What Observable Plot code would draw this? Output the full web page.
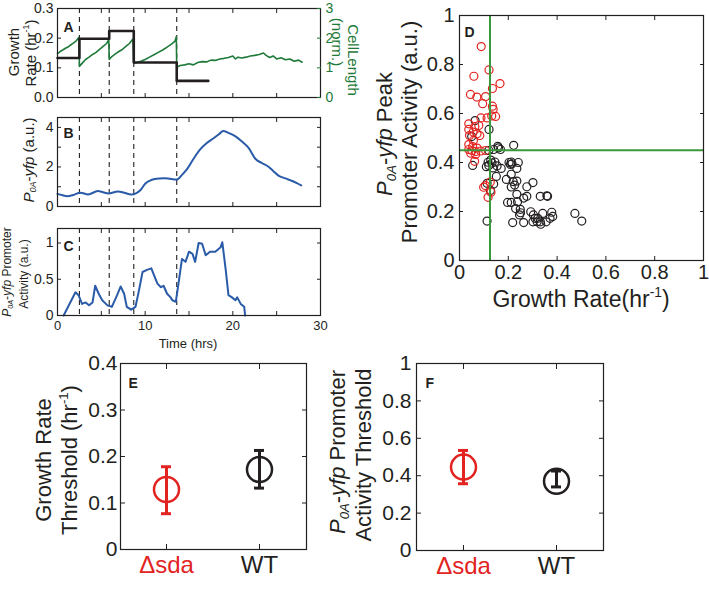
<!DOCTYPE html>
<html>
<head>
<meta charset="utf-8">
<script src="https://cdn.jsdelivr.net/npm/d3@7"></script>
<script src="https://cdn.jsdelivr.net/npm/@observablehq/plot@0.6"></script>
<style>
html,body{margin:0;padding:0;background:#fff;}
#fig{position:relative;width:709px;height:591px;overflow:hidden;font-family:"Liberation Sans",Arial,sans-serif;color:#231f20;}
#fig svg{position:absolute;left:0;top:0;}
.t{position:absolute;white-space:nowrap;line-height:1;}
sup{font-size:0.6em;vertical-align:0.7em;line-height:0;}
sub{font-size:0.6em;vertical-align:-0.3em;line-height:0;}
</style>
</head>
<body>
<div id="fig"></div>
<script>
// ---------------- data ----------------
const timeTicks = [0, 5, 10, 15, 20, 25, 30];
const timeTickLabels = [0, 10, 20, 30];
const divisionTimes = [2.5, 5.9, 8.7, 13.6];

// Panel A: growth rate (hr^-1), step function
const growthT = [0, 2.5, 2.5, 5.9, 5.9, 8.7, 8.7, 13.6, 13.6, 17.2];
const growthV = [0.133, 0.133, 0.198, 0.198, 0.224, 0.224, 0.118, 0.118, 0.056, 0.056];
const rateTicks = [0, 0.1, 0.2, 0.3];

// Panel A: cell length (norm.)
const lengthT = [0,0.3,0.6,0.9,1.2,1.5,1.8,2.1,2.45,2.5,
  2.8,3.2,3.6,4.0,4.4,4.8,5.2,5.6,5.85,5.9,
  6.2,6.6,7.0,7.4,7.8,8.2,8.6,8.7,
  9.0,9.5,10.0,10.5,11.0,11.5,12.0,12.5,13.0,13.4,13.55,13.6,
  14.0,14.5,15.0,15.5,16.0,16.5,17.0,17.5,18.0,18.5,19.0,19.5,20.0,20.3,20.6,21.0,21.5,22.0,22.5,23.0,23.5,23.8,24.2,24.6,25.0,25.5,26.0,26.5,27.0,27.5,27.9];
const lengthV = [1.48,1.55,1.6,1.66,1.7,1.77,1.83,1.9,2.03,1.05,
  1.15,1.28,1.36,1.45,1.52,1.62,1.72,1.82,1.95,1.28,
  1.38,1.47,1.55,1.62,1.72,1.82,1.97,1.15,
  1.17,1.22,1.28,1.36,1.44,1.52,1.6,1.7,1.8,1.9,2.05,1.02,
  1.08,1.1,1.14,1.1,1.18,1.21,1.2,1.26,1.25,1.3,1.32,1.35,1.4,1.3,1.36,1.33,1.36,1.4,1.42,1.45,1.5,1.42,1.35,1.4,1.3,1.34,1.27,1.3,1.22,1.26,1.19];
const lengthTicks = [0, 1, 2, 3];
const lengthPerRate = 10; // right axis (0–3) shares the left axis (0–0.3)

// Panel B: P0A-yfp (a.u.)
const yfpT = [0,0.5,1.1,1.8,2.6,3.5,4.6,5.2,5.8,6.9,7.6,8.4,9.0,9.5,10.0,10.5,11.1,11.6,12.2,12.8,13.3,13.6,14.2,14.8,15.5,16.3,17.0,17.8,18.4,18.9,19.5,20.3,21.0,21.8,22.6,23.3,24.1,24.6,25.2,26.0,26.7,27.3,27.8];
const yfpV = [0.64,0.58,0.52,0.58,0.7,0.61,0.78,0.72,0.66,0.76,0.7,0.61,0.68,0.85,1.15,1.3,1.39,1.42,1.43,1.4,1.37,1.36,1.6,1.9,2.4,2.9,3.2,3.45,3.65,3.82,3.72,3.55,3.3,2.96,2.4,2.2,2.0,1.8,1.56,1.42,1.3,1.18,1.07];
const yfpTicks = [0, 1, 2, 3, 4];
const yfpTickLabels = [0, 2, 4];

// Panel C: P0A-yfp promoter activity (a.u.)
const actT = [0.7,2.05,2.4,2.8,3.2,3.6,4.0,4.3,4.7,5.1,5.7,6.2,6.8,7.2,7.6,7.9,8.4,8.9,9.3,9.7,10.2,10.7,11.1,11.4,11.8,12.1,12.5,12.9,13.1,13.5,13.8,14.2,14.6,15.0,15.4,15.7,16.1,16.5,16.9,17.4,18.0,18.6,18.8,19.2,19.5,19.9,20.3,20.5,20.9,21.3,21.4];
const actV = [0,0.32,0.28,0.16,0.18,0.14,0.18,0.41,0.3,0.21,0.14,0.12,0.28,0.4,0.3,0.12,0.08,0.12,0.35,0.6,0.63,0.65,0.53,0.44,0.39,0.41,0.3,0.25,0.21,0.19,0.44,0.78,0.74,0.88,0.85,0.74,1.0,0.99,0.83,0.88,0.88,0.94,1.01,0.62,0.28,0.25,0.21,0.25,0.16,0.12,0];
const actTicks = [0, 0.5, 1];

// Panel D: peak promoter activity vs growth rate
const redX = [0.089,0.121,0.059,0.166,0.135,0.045,0.071,0.107,0.095,0.135,0.148,0.088,0.113,0.138,0.038,0.063,0.079,0.038,0.056,0.072,0.083,0.041,0.057,0.038,0.054,0.072,0.038,0.051,0.067,0.087,0.107,0.046,0.066,0.099,0.117,0.129,0.126,0.106,0.132,0.062];
const redY = [0.873,0.778,0.752,0.722,0.702,0.678,0.667,0.669,0.640,0.630,0.588,0.582,0.582,0.617,0.558,0.547,0.551,0.535,0.524,0.517,0.510,0.510,0.490,0.473,0.465,0.459,0.453,0.449,0.445,0.447,0.449,0.438,0.433,0.299,0.258,0.279,0.320,0.306,0.590,0.405];
const blackX = [0.064,0.121,0.050,0.054,0.120,0.140,0.157,0.168,0.222,0.117,0.120,0.133,0.137,0.154,0.171,0.151,0.140,0.113,0.127,0.113,0.203,0.209,0.212,0.241,0.235,0.212,0.192,0.220,0.235,0.212,0.226,0.276,0.301,0.235,0.263,0.276,0.197,0.212,0.238,0.230,0.249,0.246,0.218,0.263,0.292,0.303,0.310,0.301,0.321,0.331,0.333,0.341,0.331,0.358,0.361,0.355,0.371,0.378,0.382,0.473,0.501,0.110,0.128,0.145,0.160,0.215,0.250,0.318];
const blackY = [0.571,0.535,0.506,0.388,0.449,0.453,0.466,0.453,0.470,0.401,0.388,0.398,0.378,0.386,0.376,0.343,0.312,0.315,0.286,0.161,0.400,0.392,0.402,0.400,0.376,0.352,0.331,0.322,0.324,0.300,0.308,0.301,0.318,0.270,0.255,0.262,0.237,0.237,0.240,0.212,0.209,0.186,0.155,0.155,0.199,0.186,0.172,0.158,0.172,0.158,0.148,0.192,0.262,0.264,0.262,0.158,0.172,0.197,0.180,0.192,0.161,0.383,0.410,0.402,0.460,0.395,0.195,0.158];
const growthThreshold = [0.125];
const activityThreshold = [0.45];
const unitTicks = [0, 0.2, 0.4, 0.6, 0.8, 1];

// Panels E, F: thresholds per strain
const strains = ["Δsda", "WT"];
const strainColors = ["#e2231f", "#231f20"];
const growthThr = [0.129, 0.172], growthLo = [0.077, 0.132], growthHi = [0.178, 0.213];
const actThr = [0.446, 0.37], actLo = [0.357, 0.34], actHi = [0.535, 0.425];
const growthThrTicks = [0, 0.1, 0.2, 0.3, 0.4];

// ---------------- drawing ----------------
const W = 709, H = 591, TK = 4;
const INK = "#231f20", GREEN_A = "#1f7a3a", GREEN_D = "#3a993a", BLUE = "#2a5ba8", RED = "#e2231f";
const FONT = '"Liberation Sans", Arial, sans-serif';
const fig = document.getElementById("fig");

function box(l, t, r, b) {
  return {width: W, height: H, marginLeft: l, marginTop: t, marginRight: W - r, marginBottom: H - b,
    style: {background: "transparent", color: INK, fontFamily: FONT}};
}
function inTicksX(ticks, o = {}) {
  return ["top", "bottom"].map(a => Plot.axisX(ticks, {anchor: a, tickSize: -TK, tickFormat: () => "", label: null, ...o}));
}
function inTicksY(ticks, sides, o = {}) {
  return sides.map(a => Plot.axisY(ticks, {anchor: a, tickSize: -TK, tickFormat: () => "", label: null, ...o}));
}
function letter(s, dx, dy, size = 14) {
  return Plot.text([s], {text: d => d, frameAnchor: "top-left", dx, dy, fontWeight: "bold", fontSize: size, textAnchor: "start", fill: INK});
}
function addLabel(html, cx, cy, size, rot = 0, color = INK) {
  const d = document.createElement("div");
  d.className = "t";
  d.style.left = cx + "px"; d.style.top = cy + "px"; d.style.fontSize = size + "px"; d.style.color = color;
  d.style.transform = `translate(-50%,-50%) rotate(${rot}deg)`;
  d.innerHTML = html;
  fig.appendChild(d);
}
const at = arr => (d, i) => arr[i];

// Panel A
fig.appendChild(Plot.plot({
  ...box(57, 8, 320, 97),
  x: {domain: [0, 30]}, y: {domain: [0, 0.3]},
  marks: [
    Plot.ruleX(divisionTimes, {x: d => d, stroke: INK, strokeDasharray: "5,4", strokeWidth: 1.1}),
    Plot.line(lengthV, {x: at(lengthT), y: d => d / lengthPerRate, stroke: GREEN_A, strokeWidth: 1.6}),
    Plot.line(growthV, {x: at(growthT), y: d => d, stroke: INK, strokeWidth: 2.6}),
    Plot.frame({stroke: INK, strokeWidth: 1.2}),
    ...inTicksX(timeTicks),
    ...inTicksY(rateTicks, ["left"]),
    ...inTicksY(lengthTicks.map(v => v / lengthPerRate), ["right"], {stroke: GREEN_A}),
    Plot.axisY(rateTicks, {anchor: "left", tickSize: 0, tickPadding: 4, fontSize: 14, label: null}),
    Plot.axisY(lengthTicks.map(v => v / lengthPerRate), {anchor: "right", tickSize: 0, tickPadding: 5, fontSize: 14, label: null, fill: GREEN_A, tickFormat: d => String(Math.round(d * lengthPerRate))}),
    letter("A", 6, 14)
  ]
}));

// Panel B
fig.appendChild(Plot.plot({
  ...box(57, 117, 320, 206),
  x: {domain: [0, 30]}, y: {domain: [0, 4.5]},
  marks: [
    Plot.ruleX(divisionTimes, {x: d => d, stroke: INK, strokeDasharray: "5,4", strokeWidth: 1.1}),
    Plot.line(yfpV, {x: at(yfpT), y: d => d, stroke: BLUE, strokeWidth: 2, curve: "monotone-x"}),
    Plot.frame({stroke: INK, strokeWidth: 1.2}),
    ...inTicksX(timeTicks),
    ...inTicksY(yfpTicks, ["left", "right"]),
    Plot.axisY(yfpTickLabels, {anchor: "left", tickSize: 0, tickPadding: 4, fontSize: 14, label: null}),
    letter("B", 6, 11)
  ]
}));

// Panel C
fig.appendChild(Plot.plot({
  ...box(57, 228, 320, 315),
  x: {domain: [0, 30]}, y: {domain: [0, 1.2]},
  marks: [
    Plot.ruleX(divisionTimes, {x: d => d, stroke: INK, strokeDasharray: "5,4", strokeWidth: 1.1}),
    Plot.line(actV, {x: at(actT), y: d => d, stroke: BLUE, strokeWidth: 2}),
    Plot.frame({stroke: INK, strokeWidth: 1.2}),
    ...inTicksX(timeTicks),
    ...inTicksY(actTicks, ["left", "right"]),
    Plot.axisY(actTicks, {anchor: "left", tickSize: 0, tickPadding: 4, fontSize: 14, label: null, tickFormat: d => String(d)}),
    Plot.axisX(timeTickLabels, {anchor: "bottom", tickSize: 0, tickPadding: 5, fontSize: 13, label: null}),
    letter("C", 6, 13)
  ]
}));

// Panel D
fig.appendChild(Plot.plot({
  ...box(459, 15, 703, 260),
  x: {domain: [0, 1]}, y: {domain: [0, 1]},
  marks: [
    Plot.dot(blackX, {x: d => d, y: at(blackY), r: 4, stroke: INK, strokeWidth: 1.2}),
    Plot.dot(redX, {x: d => d, y: at(redY), r: 4, stroke: RED, strokeWidth: 1.2}),
    Plot.ruleX(growthThreshold, {x: d => d, stroke: GREEN_D, strokeWidth: 2}),
    Plot.ruleY(activityThreshold, {y: d => d, stroke: GREEN_D, strokeWidth: 2}),
    Plot.frame({stroke: INK, strokeWidth: 1.2}),
    ...inTicksX(unitTicks),
    ...inTicksY(unitTicks, ["left", "right"]),
    Plot.axisX(unitTicks, {anchor: "bottom", tickSize: 0, tickPadding: 4, fontSize: 20, label: null, tickFormat: d => String(d)}),
    Plot.axisY(unitTicks, {anchor: "left", tickSize: 0, tickPadding: 5, fontSize: 20, label: null, tickFormat: d => String(d)}),
    letter("D", 5, 12)
  ]
}));

// Panel E
const bandX = {type: "band", domain: strains, paddingInner: 0.89, paddingOuter: 0.445};
fig.appendChild(Plot.plot({
  ...box(120, 363, 306, 549),
  x: bandX, y: {domain: [0, 0.4]}, color: {type: "identity"},
  marks: [
    Plot.ruleX(strains, {x: d => d, y1: at(growthLo), y2: at(growthHi), stroke: at(strainColors), strokeWidth: 3}),
    Plot.tickY(strains, {x: d => d, y: at(growthLo), stroke: at(strainColors), strokeWidth: 3}),
    Plot.tickY(strains, {x: d => d, y: at(growthHi), stroke: at(strainColors), strokeWidth: 3}),
    Plot.dot(strains, {x: d => d, y: at(growthThr), r: 12.5, stroke: at(strainColors), strokeWidth: 2.5}),
    Plot.frame({stroke: INK, strokeWidth: 1.2}),
    ...inTicksX(strains, {tickSize: -5}),
    ...inTicksY(growthThrTicks, ["left", "right"], {tickSize: -5}),
    Plot.axisY(growthThrTicks, {anchor: "left", tickSize: 0, tickPadding: 3, fontSize: 21, label: null, tickFormat: d => String(d)}),
    Plot.text(strains, {x: d => d, frameAnchor: "bottom", dy: 23, fontSize: 24, fill: at(strainColors)}),
    letter("E", 8, 15)
  ]
}));

// Panel F
fig.appendChild(Plot.plot({
  ...box(416, 363, 603, 550),
  x: bandX, y: {domain: [0, 1]}, color: {type: "identity"},
  marks: [
    Plot.ruleX(strains, {x: d => d, y1: at(actLo), y2: at(actHi), stroke: at(strainColors), strokeWidth: 3}),
    Plot.tickY(strains, {x: d => d, y: at(actLo), stroke: at(strainColors), strokeWidth: 3}),
    Plot.tickY(strains, {x: d => d, y: at(actHi), stroke: at(strainColors), strokeWidth: 3}),
    Plot.dot(strains, {x: d => d, y: at(actThr), r: 12.5, stroke: at(strainColors), strokeWidth: 2.5}),
    Plot.frame({stroke: INK, strokeWidth: 1.2}),
    ...inTicksX(strains, {tickSize: -5}),
    ...inTicksY(unitTicks, ["left", "right"], {tickSize: -5}),
    Plot.axisY(unitTicks, {anchor: "left", tickSize: 0, tickPadding: 5, fontSize: 21, label: null, tickFormat: d => String(d)}),
    Plot.text(strains, {x: d => d, frameAnchor: "bottom", dy: 23, fontSize: 24, fill: at(strainColors)}),
    letter("F", 9, 15)
  ]
}));

// ---------------- axis titles ----------------
const P0A = '<i>P</i><sub><i>0A</i></sub>-<i>yfp</i>';
addLabel("Growth", 13, 52, 15, -90);
addLabel("Rate (hr<sup>-1</sup>)", 30, 53, 15, -90);
addLabel("CellLength", 353, 60, 15, 90, GREEN_A);
addLabel("(norm.)", 337, 42, 15, 90, GREEN_A);
addLabel(P0A + " (a.u.)", 28, 160, 15, -90);
addLabel(P0A + " Promoter", 7, 272, 12, -90);
addLabel("Activity (a.u.)", 24, 274, 12, -90);
addLabel("Time (hrs)", 188, 343, 13);
addLabel(P0A + " Peak", 385, 134, 22, -90);
addLabel("Promoter Activity (a.u.)", 410, 132, 22, -90);
addLabel("Growth Rate(hr<sup>-1</sup>)", 581, 299, 23);
addLabel("Growth Rate", 44, 460, 22, -90);
addLabel("Threshold (hr<sup>-1</sup>)", 70, 460, 22, -90);
addLabel(P0A + " Promoter", 338, 452, 22, -90);
addLabel("Activity Threshold", 364, 455, 22, -90);
</script>
</body>
</html>
